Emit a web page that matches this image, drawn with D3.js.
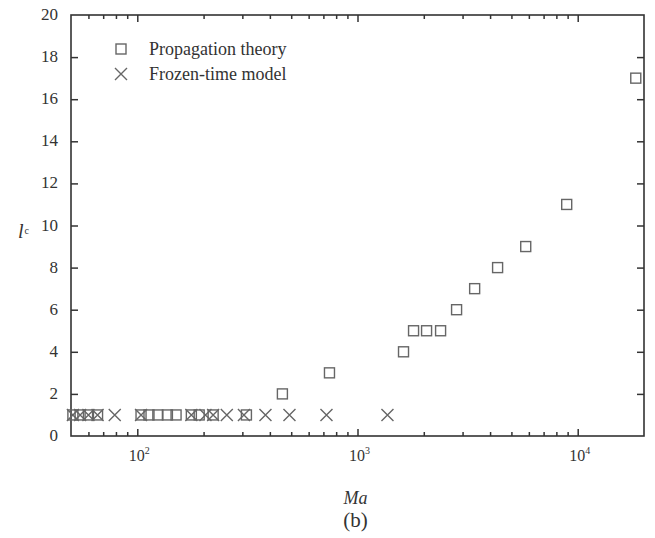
<!DOCTYPE html>
<html>
<head>
<meta charset="utf-8">
<script src="https://cdn.jsdelivr.net/npm/d3@7"></script>
<style>
  body { margin: 0; background: #fff; }
  text { font-family: "Liberation Serif", "DejaVu Serif", serif; fill: #333; }
</style>
</head>
<body>
<div id="wrapper"></div>
<script>
// Propagation theory (squares)
const propMa = [51, 55, 60, 66, 104, 113, 124, 137, 150, 176, 191, 221, 313,
                456, 746, 1618, 1797, 2059, 2384, 2818, 3404, 4327, 5807, 8913, 18350];
const propLc = [1, 1, 1, 1, 1, 1, 1, 1, 1, 1, 1, 1, 1,
                2, 3, 4, 5, 5, 5, 6, 7, 8, 9, 11, 17];
// Frozen-time model (crosses)
const frozenMa = [51, 55, 60, 66, 79, 104, 176, 204, 221, 255, 305, 382, 491, 723, 1368];
const frozenLc = [1, 1, 1, 1, 1, 1, 1, 1, 1, 1, 1, 1, 1, 1, 1];

const xMajor = [100, 1000, 10000];
const xMinor = [60, 70, 80, 90, 200, 300, 400, 500, 600, 700, 800, 900,
                2000, 3000, 4000, 5000, 6000, 7000, 8000, 9000];
const yTicks = [0, 2, 4, 6, 8, 10, 12, 14, 16, 18, 20];
const legendLabels = ["Propagation theory", "Frozen-time model"];

const dimension = {
    width: 655,
    height: 538,
    margin: { top: 15, left: 71, bottom: 102, right: 11 }
};
dimension.boundedWidth = dimension.width - dimension.margin.left - dimension.margin.right;
dimension.boundedHeight = dimension.height - dimension.margin.top - dimension.margin.bottom;

const wrapper = d3.select("#wrapper")
    .append("svg")
    .attr("width", dimension.width)
    .attr("height", dimension.height);

const bounds = wrapper.append("g")
    .attr("transform", `translate(${dimension.margin.left},${dimension.margin.top})`);

const xScaler = d3.scaleLog()
    .domain([50, 20000])
    .range([0, dimension.boundedWidth]);

const yScaler = d3.scaleLinear()
    .domain([0, 20])
    .range([dimension.boundedHeight, 0]);

const axisColor = "#333";

function styleAxis(g) {
    g.select(".domain").remove();
    g.selectAll("line").attr("stroke", axisColor).attr("stroke-width", 1.5);
}

// bottom + top axes (ticks pointing inward)
bounds.append("g")
    .attr("transform", `translate(0,${dimension.boundedHeight})`)
    .call(d3.axisBottom(xScaler).tickValues(xMajor).tickSize(-7).tickFormat(""))
    .call(styleAxis);
bounds.append("g")
    .attr("transform", `translate(0,${dimension.boundedHeight})`)
    .call(d3.axisBottom(xScaler).tickValues(xMinor).tickSize(-4).tickFormat(""))
    .call(styleAxis);
bounds.append("g")
    .call(d3.axisTop(xScaler).tickValues(xMajor).tickSize(-7).tickFormat(""))
    .call(styleAxis);
bounds.append("g")
    .call(d3.axisTop(xScaler).tickValues(xMinor).tickSize(-4).tickFormat(""))
    .call(styleAxis);

// left + right axes
bounds.append("g")
    .call(d3.axisLeft(yScaler).tickValues(yTicks.slice(1, -1)).tickSize(-7).tickFormat(""))
    .call(styleAxis);
bounds.append("g")
    .attr("transform", `translate(${dimension.boundedWidth},0)`)
    .call(d3.axisRight(yScaler).tickValues(yTicks.slice(1, -1)).tickSize(-7).tickFormat(""))
    .call(styleAxis);

// frame
bounds.append("rect")
    .attr("width", dimension.boundedWidth)
    .attr("height", dimension.boundedHeight)
    .attr("fill", "none")
    .attr("stroke", axisColor)
    .attr("stroke-width", 1.6);

// y tick labels
bounds.selectAll(".ylab")
    .data(yTicks)
    .enter()
    .append("text")
    .attr("x", -13)
    .attr("y", d => yScaler(d) + 5)
    .attr("text-anchor", "end")
    .attr("font-size", "17px")
    .text(d => d);

// x tick labels 10^n
const xLab = bounds.selectAll(".xlab")
    .data(xMajor)
    .enter()
    .append("text")
    .attr("x", d => xScaler(d) + 2)
    .attr("y", dimension.boundedHeight + 25)
    .attr("text-anchor", "middle")
    .attr("font-size", "16px");
xLab.append("tspan").text("10");
xLab.append("tspan")
    .attr("dy", -7)
    .attr("font-size", "10px")
    .text(d => Math.round(Math.log10(d)));

// axis labels
bounds.append("text")
    .attr("x", xScaler(1000) - 2)
    .attr("y", dimension.boundedHeight + 68)
    .attr("text-anchor", "middle")
    .attr("font-size", "18px")
    .attr("font-style", "italic")
    .text("Ma");

const yLabel = wrapper.append("text")
    .attr("x", 18)
    .attr("y", 238)
    .attr("font-size", "20px");
yLabel.append("tspan").attr("font-style", "italic").text("l");
yLabel.append("tspan").attr("dy", -4).attr("dx", 1).attr("font-size", "10px").text("c");

wrapper.append("text")
    .attr("x", dimension.margin.left + xScaler(1000) - 2)
    .attr("y", 527)
    .attr("text-anchor", "middle")
    .attr("font-size", "21px")
    .text("(b)");

// markers
const markColor = "#666";
const sq = 10;
const propData = propMa.map((m, i) => ({ ma: m, lc: propLc[i] }));
const frozenData = frozenMa.map((m, i) => ({ ma: m, lc: frozenLc[i] }));

bounds.selectAll(".prop")
    .data(propData)
    .enter()
    .append("rect")
    .attr("x", d => xScaler(d.ma) - sq / 2)
    .attr("y", d => yScaler(d.lc) - sq / 2)
    .attr("width", sq)
    .attr("height", sq)
    .attr("fill", "none")
    .attr("stroke", markColor)
    .attr("stroke-width", 1.4);

const cr = 6;
bounds.selectAll(".frozen")
    .data(frozenData)
    .enter()
    .append("path")
    .attr("d", d => {
        const cx = xScaler(d.ma), cy = yScaler(d.lc);
        return `M${cx - cr},${cy - cr}L${cx + cr},${cy + cr}M${cx - cr},${cy + cr}L${cx + cr},${cy - cr}`;
    })
    .attr("stroke", markColor)
    .attr("stroke-width", 1.4)
    .attr("fill", "none");

// legend
const legend = wrapper.append("g").attr("transform", "translate(121,49)");
legend.append("rect")
    .attr("x", -sq / 2).attr("y", -sq / 2)
    .attr("width", sq).attr("height", sq)
    .attr("fill", "none").attr("stroke", markColor).attr("stroke-width", 1.4);
legend.append("path")
    .attr("d", `M${-cr},${25 - cr}L${cr},${25 + cr}M${-cr},${25 + cr}L${cr},${25 - cr}`)
    .attr("stroke", markColor).attr("stroke-width", 1.4);
legend.selectAll(".legtext")
    .data(legendLabels)
    .enter()
    .append("text")
    .attr("x", 28)
    .attr("y", (d, i) => i * 25 + 6)
    .attr("font-size", "18px")
    .text(d => d);
</script>
</body>
</html>
